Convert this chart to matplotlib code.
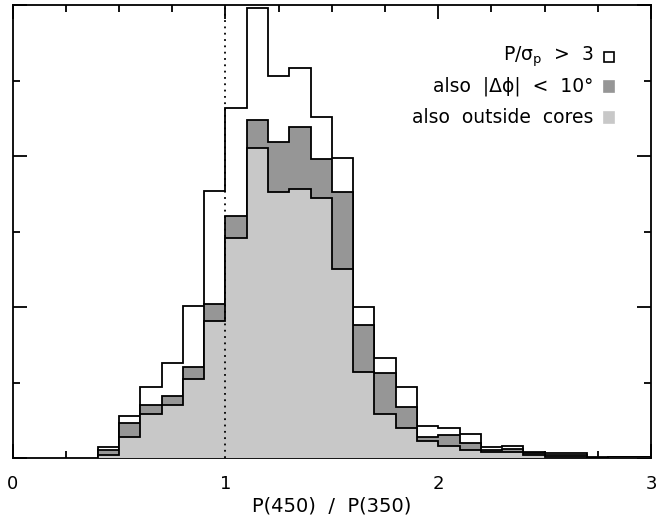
import numpy as np
import matplotlib
matplotlib.use("Agg")
import matplotlib.pyplot as plt
from matplotlib.ticker import MultipleLocator
from matplotlib.patches import Rectangle

# bin edges from 0.4 to 3.0 in steps of 0.1
bin_lo = 0.4
bin_w = 0.1
# counts: all P/sigma_p > 3
all_counts = [7, 28, 47, 63, 101, 177, 232, 298, 253, 258, 226, 199, 100,
              66, 47, 21, 20, 16, 7, 8, 4, 3, 3, 1, 1, 1]
# also |dphi| < 10 deg
dphi_counts = [5, 23, 35, 41, 60, 102, 160, 224, 209, 219, 198, 176, 88,
               56, 34, 14, 15, 10, 5, 6, 3, 2, 2, 0, 1, 1]
# also outside cores
core_counts = [2, 14, 29, 35, 52, 91, 146, 205, 176, 178, 172, 125, 57,
               29, 20, 11, 8, 5, 4, 4, 2, 1, 1, 0, 1, 1]

legend_labels = [r"P/$\mathregular{\sigma_p}$  >  3", "also  |Δϕ|  <  10°", "also  outside  cores"]
x_ticks = [0, 1, 2, 3]
x_label = "P(450)  /  P(350)"

edges = bin_lo + bin_w * np.arange(len(all_counts) + 1)

plt.rcParams['font.family'] = ['DejaVu Sans']
fig = plt.figure(figsize=(6.57, 5.18), dpi=100)
ax = fig.add_axes([0.0193, 0.1158, 0.9716, 0.8745])

lw = 1.3
dark = "#969696"
light = "#c8c8c8"
ax.stairs(all_counts, edges, fill=False, color="black", lw=lw, baseline=0, zorder=2)
ax.stairs(dphi_counts, edges, fill=True, facecolor=dark, edgecolor="black", lw=lw, zorder=3)
ax.stairs(core_counts, edges, fill=True, facecolor=light, edgecolor="black", lw=lw, zorder=4)
ax.axvline(1.0, color="black", lw=1.3, linestyle=(0, (1, 2.5)), zorder=5)

ax.set_xlim(0, 3)
ax.set_ylim(0, 300)
ax.set_xticks(x_ticks)
ax.set_xticklabels([str(t) for t in x_ticks])
ax.xaxis.set_minor_locator(MultipleLocator(0.25))
ax.yaxis.set_major_locator(MultipleLocator(100))
ax.yaxis.set_minor_locator(MultipleLocator(50))
ax.set_yticklabels([])
ax.tick_params(which="both", direction="in", top=True, right=True, width=1.3, color="black")
ax.tick_params(which="major", length=10)
ax.tick_params(which="minor", length=5)
ax.tick_params(axis="x", which="major", labelsize=13, pad=12)
for s in ax.spines.values():
    s.set_linewidth(1.3)
ax.set_xlabel(x_label, fontsize=14, labelpad=3)

# legend (manual, axes coords)
fcols = ["white", dark, light]
ecols = ["black", dark, light]
ys = [0.885, 0.820, 0.752]
for lab, fc, ec, yy in zip(legend_labels, fcols, ecols, ys):
    ax.text(0.91, yy, lab, transform=ax.transAxes, ha="right", va="center", fontsize=13.5)
    ax.add_patch(Rectangle((0.926, yy - 0.0115), 0.0155, 0.023, transform=ax.transAxes,
                           facecolor=fc, edgecolor=ec, lw=1.2, zorder=6))

fig.savefig("out.png", dpi=100)
